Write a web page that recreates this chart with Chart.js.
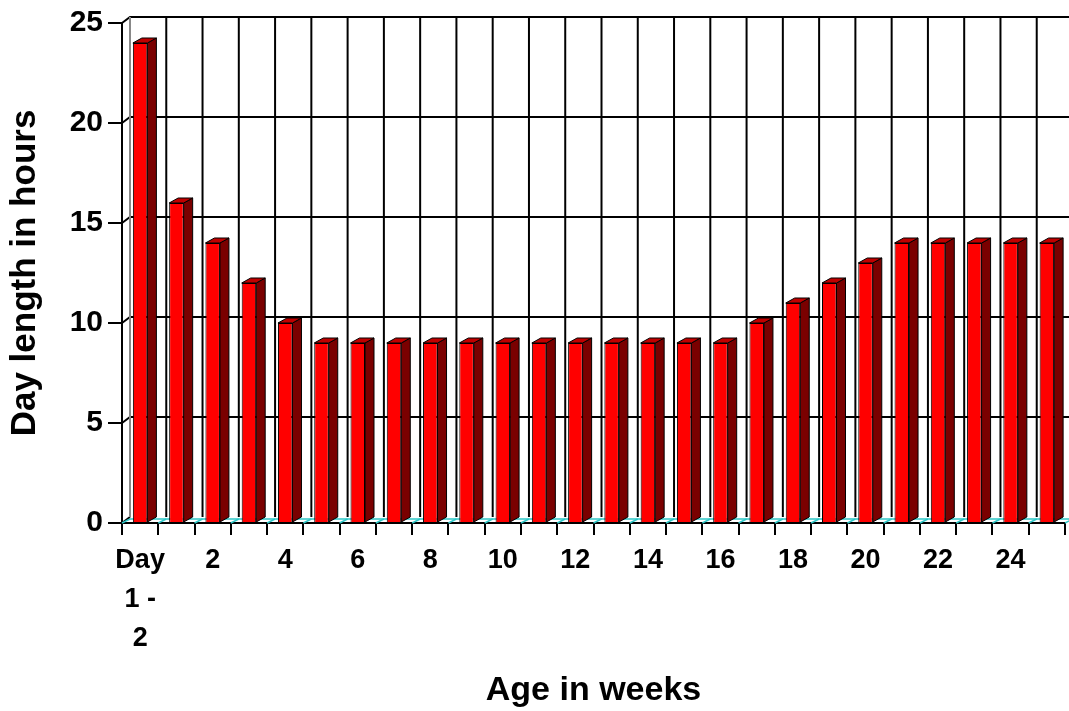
<!DOCTYPE html>
<html>
<head>
<meta charset="utf-8">
<script src="https://cdn.jsdelivr.net/npm/chart.js@4"></script>
<style>
  html, body { margin: 0; padding: 0; background: #fff; }
  #chart { display: block; }
</style>
</head>
<body>
<canvas id="chart" width="1069" height="711"></canvas>
<script>
const categories = ['Day 1 - 2', '1', '2', '3', '4', '5', '6', '7', '8', '9', '10', '11', '12',
    '13', '14', '15', '16', '17', '18', '19', '20', '21', '22', '23', '24', '25'];
const dayLength = [24, 16, 14, 12, 10, 9, 9, 9, 9, 9, 9, 9, 9, 9, 9, 9, 9, 10, 11, 12, 13, 14, 14, 14, 14, 14];
const yTicks = [0, 5, 10, 15, 20, 25];

// depth of the back wall and of the bars
const DX = 8, DY = 6;
const BX = 9, BY = 5;
const font = "'Liberation Sans', Arial, sans-serif";

// back wall: grid lines pushed back by the depth offset
const backWall = {
    id: 'backWall',
    beforeDatasetsDraw(chart) {
        const c = chart.ctx;
        const xs = chart.scales.x, ys = chart.scales.y;
        const n = categories.length;
        const step = xs.width / n;
        const top = ys.getPixelForValue(yTicks[yTicks.length - 1]);
        const bottom = ys.getPixelForValue(0);
        c.save();
        c.lineWidth = 2;
        c.strokeStyle = '#000';
        yTicks.forEach(v => {
            const y = ys.getPixelForValue(v);
            c.beginPath();
            c.moveTo(xs.left, y);
            c.lineTo(xs.left + DX, y - DY);
            if (v !== 0) c.lineTo(chart.width + 10, y - DY);
            c.stroke();
        });
        for (let i = 0; i <= n; i++) {
            const x = xs.left + i * step + DX;
            c.strokeStyle = i === 0 ? '#888' : '#000';
            c.beginPath();
            c.moveTo(x, top - DY);
            c.lineTo(x, bottom - DY);
            c.stroke();
        }
        // floor
        c.strokeStyle = '#2cc7c7';
        c.lineWidth = 1.5;
        c.beginPath();
        c.moveTo(xs.left + DX, bottom - DY + 2);
        c.lineTo(chart.width + 10, bottom - DY + 2);
        c.stroke();
        for (let i = 0; i <= n; i++) {
            const x = xs.left + i * step;
            c.beginPath();
            c.moveTo(x, bottom);
            c.lineTo(x + DX, bottom - DY + 2);
            c.stroke();
        }
        c.restore();
    }
};

// side and top faces of each bar
const bars3d = {
    id: 'bars3d',
    afterDatasetsDraw(chart) {
        const c = chart.ctx;
        const meta = chart.getDatasetMeta(0);
        c.save();
        c.lineWidth = 1;
        c.strokeStyle = '#000';
        c.lineJoin = 'round';
        meta.data.forEach(bar => {
            const p = bar.getProps(['x', 'y', 'base', 'width'], true);
            const l = p.x - p.width / 2, r = p.x + p.width / 2;
            c.fillStyle = '#7a0000';
            c.beginPath();
            c.moveTo(r, p.y);
            c.lineTo(r + BX, p.y - BY);
            c.lineTo(r + BX, p.base - BY);
            c.lineTo(r, p.base);
            c.closePath();
            c.fill();
            c.stroke();
            c.fillStyle = '#c00000';
            c.beginPath();
            c.moveTo(l, p.y);
            c.lineTo(l + BX, p.y - BY);
            c.lineTo(r + BX, p.y - BY);
            c.lineTo(r, p.y);
            c.closePath();
            c.fill();
            c.stroke();
        });
        c.restore();
    }
};

new Chart(document.getElementById('chart'), {
    type: 'bar',
    data: {
        labels: categories,
        datasets: [{
            data: dayLength,
            backgroundColor: '#ff0000',
            borderColor: '#000',
            borderWidth: 1,
            barPercentage: 0.4,
            categoryPercentage: 1
        }]
    },
    options: {
        responsive: false,
        animation: false,
        devicePixelRatio: 1,
        layout: { padding: { top: 22, right: 4, left: 0, bottom: 0 } },
        plugins: { legend: { display: false }, tooltip: { enabled: false } },
        scales: {
            x: {
                grid: {
                    drawOnChartArea: false,
                    drawTicks: true,
                    tickLength: 12,
                    color: '#000',
                    lineWidth: 2
                },
                border: { display: true, color: '#000', width: 2 },
                ticks: {
                    autoSkip: false,
                    maxRotation: 0,
                    color: '#000',
                    padding: 6,
                    font: { family: font, size: 27, weight: 'bold', lineHeight: 1.45 },
                    callback(value, index) {
                        if (index % 2 !== 0 || index >= 25) return '';
                        const lab = categories[index];
                        return index === 0 ? ['Day', '1 -', '2'] : lab;
                    }
                },
                title: {
                    display: true,
                    text: 'Age in weeks',
                    color: '#000',
                    padding: { top: 0, bottom: 0 },
                    font: { family: font, size: 34, weight: 'bold' }
                },
                afterFit(s) { s.height = 711 - 523; }
            },
            y: {
                min: 0,
                max: 25,
                afterBuildTicks(s) { s.ticks = yTicks.map(v => ({ value: v })); },
                grid: {
                    drawOnChartArea: false,
                    drawTicks: true,
                    tickLength: 14,
                    color: '#000',
                    lineWidth: 2
                },
                border: { display: true, color: '#000', width: 2 },
                ticks: {
                    color: '#000',
                    padding: 5,
                    font: { family: font, size: 30, weight: 'bold' }
                },
                title: {
                    display: true,
                    text: 'Day length in hours',
                    color: '#000',
                    padding: { top: 4, bottom: 0 },
                    font: { family: font, size: 35, weight: 'bold' }
                },
                afterFit(s) { s.width = 122; }
            }
        }
    },
    plugins: [backWall, bars3d]
});
</script>
</body>
</html>
